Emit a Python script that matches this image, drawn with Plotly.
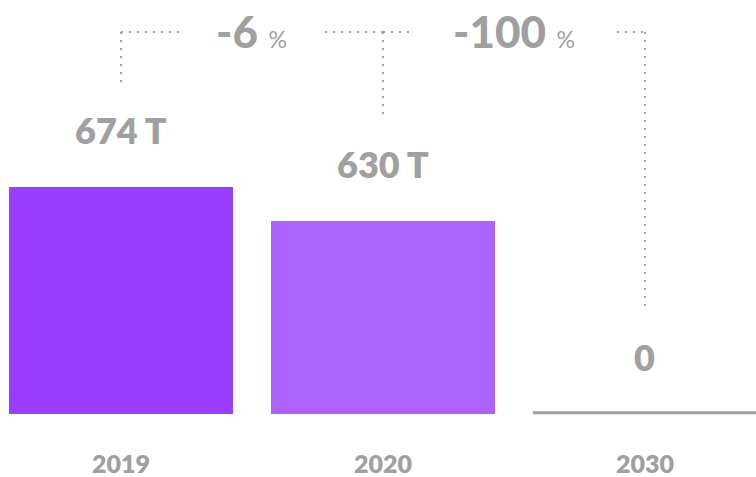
import plotly.graph_objects as go

# ---- data ----
years = ["2019", "2020", "2030"]
values = [674, 630, 0]
value_labels = ["674 T", "630 T", "0"]
change_labels = ["-6", "-100"]

# ---- style / layout constants ----
W, H = 756, 477
MB = 63
PLOT_H = H - MB
Y_RANGE = [380, 916]
X_RANGE = [-0.4618, 2.4237]
BAR_COLORS = ["#993DFF", "#AD62FB"]
GRAY = "#A0A0A0"
DOT = "#A0A0A0"
FONT = "Lato"

ppu = PLOT_H / (Y_RANGE[1] - Y_RANGE[0])       # px per y unit
ppc = W / (X_RANGE[1] - X_RANGE[0])             # px per category
bargap = 0.145
bw = 1 - bargap

fig = go.Figure()

bar_x = [y for y, v in zip(years, values) if v > 0]
bar_v = [v for v in values if v > 0]
fig.add_trace(go.Bar(x=bar_x, y=bar_v, marker=dict(color=BAR_COLORS[:len(bar_v)], line_width=0),
                     hoverinfo="skip", showlegend=False))
fig.add_trace(go.Bar(x=[years[2]], y=[None], showlegend=False, hoverinfo="skip"))

shapes = []
annotations = []

for i, v in enumerate(values):
    if v <= Y_RANGE[0]:
        shapes.append(dict(type="line", xref="x", yref="paper", x0=i - bw / 2, x1=i + bw / 2,
                           y0=0.003, y1=0.003, line=dict(color=GRAY, width=3)))

LABEL_GAP = 33
CONNECT_GAP = 104
for i, (v, t) in enumerate(zip(values, value_labels)):
    yv = max(v, Y_RANGE[0])
    annotations.append(dict(x=i, y=yv, xref="x", yref="y", text=t, showarrow=False,
                            yanchor="bottom", yshift=LABEL_GAP,
                            font=dict(family=FONT, size=36, color=GRAY, weight=800)))

TOP_PX = 32
top_paper = (PLOT_H - TOP_PX) / PLOT_H
top_val = Y_RANGE[1] - TOP_PX / ppu
HALF_SPAN = [73, 103]
dot_line = dict(color=DOT, width=2, dash="2px,6px")
for i, v in enumerate(values):
    yv = max(v, Y_RANGE[0])
    end_val = yv + CONNECT_GAP / ppu
    shapes.append(dict(type="line", xref="x", yref="y", x0=i, x1=i, y0=top_val, y1=end_val, line=dot_line))
for k, lab in enumerate(change_labels):
    mid = k + 0.5
    off = HALF_SPAN[k] / ppc
    shapes.append(dict(type="line", xref="x", yref="y", x0=k, x1=mid - off, y0=top_val, y1=top_val, line=dot_line))
    shapes.append(dict(type="line", xref="x", yref="y", x0=mid + off, x1=k + 1, y0=top_val, y1=top_val, line=dot_line))
    annotations.append(dict(x=mid, y=top_paper, xref="x", yref="paper", showarrow=False, yanchor="middle",
                            yshift=1,
                            text=f"{lab} <span style='font-size:23px;font-weight:normal'>%</span>",
                            font=dict(family=FONT, size=44, color=GRAY, weight=900)))

fig.update_layout(
    width=W, height=H,
    margin=dict(l=0, r=0, t=0, b=MB),
    paper_bgcolor="white", plot_bgcolor="white",
    bargap=bargap, barmode="overlay",
    shapes=shapes, annotations=annotations,
    xaxis=dict(type="category", categoryorder="array", categoryarray=years, range=X_RANGE,
               showgrid=False, zeroline=False, showline=False, ticks="",
               ticklabelstandoff=33,
               tickfont=dict(family=FONT, size=25, color=GRAY, weight=800), fixedrange=True),
    yaxis=dict(range=Y_RANGE, visible=False, fixedrange=True),
    showlegend=False,
)

fig.write_html("out.html", config={"displayModeBar": False},
               post_script="document.body.style.margin='0px';document.body.style.overflow='hidden';")
